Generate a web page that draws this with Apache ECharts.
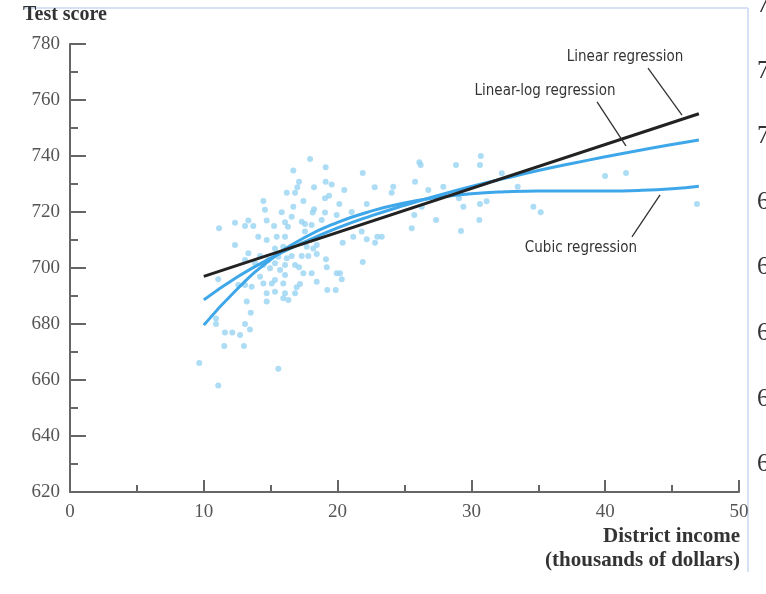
<!DOCTYPE html>
<html><head><meta charset="utf-8">
<script src="https://cdn.jsdelivr.net/npm/echarts@6/dist/echarts.min.js"></script>
<style>html,body{margin:0;padding:0;background:#fff}#c{width:766px;height:594px}</style>
</head><body><div id="c"></div>
<script>
// ---- data ----
const xAxisRange = [0, 50];
const yAxisRange = [620, 780];
const scatterX = [
16.20,14.45,14.57,15.82,12.33,13.33,14.70,13.08,13.70,15.25,16.07,11.14,16.29,
17.94,19.11,16.69,21.88,17.12,19.11,19.56,18.24,16.99,22.77,16.82,19.36,19.06,20.50,17.44,16.69,20.13,22.18,18.24,18.14,19.06,21.05,19.93,16.57,17.32,18.81,17.56,18.06,
12.33,14.07,15.45,16.07,14.70,15.32,15.94,13.33,14.20,14.82,15.57,16.20,13.08,13.83,14.45,15.32,16.07,14.95,15.70,16.07,14.20,15.32,15.08,14.45,13.08,15.94,13.58,12.58,11.08,15.32,14.70,16.07,15.94,13.21,14.70,16.32,
17.56,21.17,21.80,22.18,22.80,22.97,20.38,18.44,18.18,17.69,18.44,17.32,17.81,16.57,19.13,21.88,16.82,17.12,19.19,17.44,18.06,19.93,20.18,20.31,18.44,17.19,16.94,16.82,19.23,19.86,
10.91,10.91,11.58,12.13,12.71,13.08,13.45,13.51,11.53,13.00,9.66,15.57,11.08,
30.70,30.64,26.11,26.21,28.85,24.16,24.04,25.79,27.90,26.78,32.27,33.46,29.07,29.40,30.64,31.14,26.29,25.73,27.36,30.59,25.54,29.22,34.63,35.18,23.30,
39.99,41.56,46.86
];
const scatterY = [
726.9,723.9,720.8,719.9,716.2,717.0,717.0,715.0,715.0,715.0,716.3,714.2,714.7,
738.9,736.0,734.8,733.9,730.8,730.8,729.8,728.8,728.8,728.8,726.9,725.8,724.9,727.9,723.9,721.9,722.9,722.9,721.0,719.8,719.8,720.0,718.9,718.3,716.5,717.1,715.7,715.4,
708.2,711.2,711.2,711.2,710.0,707.0,707.6,705.3,704.3,702.9,704.0,703.5,702.9,701.7,701.1,701.7,701.1,699.9,699.3,697.5,696.9,695.7,694.5,694.5,693.9,694.5,693.3,693.9,696.0,691.5,691.0,691.0,689.2,688.0,688.0,688.6,
713.0,711.2,713.0,710.3,709.0,711.2,709.0,708.2,707.0,707.6,705.0,704.3,704.3,704.3,703.1,702.1,701.1,700.3,700.3,698.1,698.1,698.1,698.1,696.0,695.1,694.3,693.1,691.0,692.1,692.1,
682.0,680.0,677.0,677.0,676.1,680.0,678.0,684.0,672.1,672.1,666.1,664.0,658.0,
740.0,736.8,737.8,736.8,736.8,729.0,726.9,730.8,729.0,727.9,733.8,729.0,724.9,721.9,722.9,723.8,721.9,718.9,717.1,717.1,714.2,713.2,721.9,719.9,711.2,
732.9,733.9,722.9
];
const linearX = [10, 47];
const linearY = [697.0, 755.1];
const curveX  = [10, 12.5, 15, 17.5, 20, 22.5, 25, 27.5, 30, 32.5, 35, 37.5, 40, 42.5, 45, 47];
const linLogY = [688.6, 696.8, 703.5, 709.2, 714.3, 718.6, 722.4, 725.9, 729.1, 732.0, 734.8, 737.3, 739.7, 742.0, 744.1, 745.7];
const cubicY  = [679.6, 692.5, 703.0, 710.8, 716.3, 720.3, 723.2, 725.2, 726.5, 727.2, 727.5, 727.5, 727.5, 727.7, 728.3, 729.2];
const yAxisTitle = 'Test score';
const xAxisTitle1 = 'District income';
const xAxisTitle2 = '(thousands of dollars)';
const annotations = [
  {text: 'Linear regression', at: [41.48, 775.4], from: [43.2, 771.4], to: [45.74, 754.6]},
  {text: 'Linear-log regression', at: [35.5, 763.2], from: [39.39, 759.3], to: [41.55, 743.6]},
  {text: 'Cubic regression', at: [38.19, 707.1], from: [42.0, 711.1], to: [44.1, 726.1]}
];
const sideLabels = ['740','720','700','680','660','640','620','600'];

// ---- chart ----
const zip = (xs, ys) => xs.map((x, i) => [x, ys[i]]);
const chart = echarts.init(document.getElementById('c'), null, {renderer: 'canvas'});
const serif = "'Liberation Serif','DejaVu Serif',serif";
const narrow = "'Liberation Sans Narrow','DejaVu Sans Condensed','Roboto',sans-serif";
const axisCol = '#666';
chart.setOption({
  animation: false,
  backgroundColor: '#fff',
  grid: {left: 70, right: 27, top: 44, bottom: 102, containLabel: false, outerBoundsMode: 'none'},
  xAxis: {
    type: 'value', min: xAxisRange[0], max: xAxisRange[1], interval: 10,
    axisLine: {show: true, lineStyle: {color: axisCol, width: 2}},
    axisTick: {show: true, inside: true, length: 12, lineStyle: {color: axisCol, width: 2}},
    minorTick: {show: true, splitNumber: 2, length: 7, lineStyle: {color: axisCol, width: 2}},
    splitLine: {show: false},
    axisLabel: {color: '#555', fontFamily: serif, fontSize: 19, margin: 11}
  },
  yAxis: {
    type: 'value', min: yAxisRange[0], max: yAxisRange[1], interval: 20,
    axisLine: {show: true, lineStyle: {color: axisCol, width: 2}},
    axisTick: {show: true, inside: true, length: 16, lineStyle: {color: axisCol, width: 2}},
    minorTick: {show: true, splitNumber: 2, length: 8, lineStyle: {color: axisCol, width: 2}},
    splitLine: {show: false},
    axisLabel: {color: '#555', fontFamily: serif, fontSize: 19, margin: 10}
  },
  series: [
    {type: 'scatter', data: zip(scatterX, scatterY), symbolSize: 6,
     itemStyle: {color: '#98d3f3'}, z: 1},
    {type: 'line', data: zip(curveX, cubicY), smooth: true, showSymbol: false,
     lineStyle: {color: '#3ea7e9', width: 3}, z: 2},
    {type: 'line', data: zip(curveX, linLogY), smooth: true, showSymbol: false,
     lineStyle: {color: '#3ea7e9', width: 3}, z: 3},
    {type: 'line', data: zip(linearX, linearY), showSymbol: false,
     lineStyle: {color: '#222', width: 3}, z: 4}
  ]
});

const px = p => chart.convertToPixel({gridIndex: 0}, p);
const g = [];
g.push({type: 'line', shape: {x1: 23, y1: 8, x2: 748, y2: 8}, style: {stroke: '#c9d8ef', lineWidth: 1.5}, z: 0});
g.push({type: 'line', shape: {x1: 748, y1: 8, x2: 748, y2: 572}, style: {stroke: '#c9d8ef', lineWidth: 1.5}, z: 0});
g.push({type: 'text', left: 23, top: 5, style: {text: yAxisTitle, font: "bold 20px " + serif, fill: '#333'}});
g.push({type: 'text', x: 740, y: 537, style: {text: xAxisTitle1, font: "bold 21px " + serif, fill: '#333', align: 'right', verticalAlign: 'middle'}});
g.push({type: 'text', x: 740, y: 561, style: {text: xAxisTitle2, font: "bold 21px " + serif, fill: '#333', align: 'right', verticalAlign: 'middle'}});
annotations.forEach(a => {
  const c = px(a.at), f = px(a.from), t = px(a.to);
  g.push({type: 'text', x: c[0], y: c[1], style: {text: a.text, font: "15px " + narrow, fill: '#333', align: 'center', verticalAlign: 'middle'}, z: 10});
  g.push({type: 'line', shape: {x1: f[0], y1: f[1], x2: t[0], y2: t[1]}, style: {stroke: '#333', lineWidth: 1.3}, z: 10});
});
sideLabels.forEach((s, i) => {
  g.push({type: 'text', x: 757, y: 5.5 + i * 65.6, style: {text: s, font: "25px " + serif, fill: '#333', verticalAlign: 'middle'}});
});
chart.setOption({graphic: g});
</script></body></html>
